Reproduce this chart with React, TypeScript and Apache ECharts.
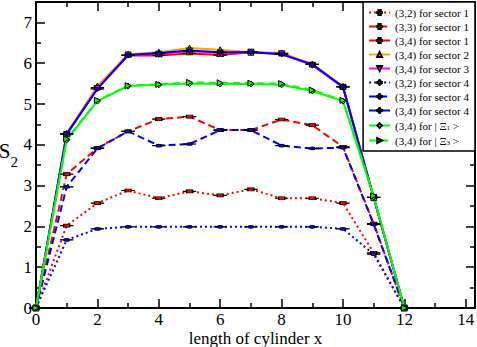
import React, { useEffect, useRef } from 'react';
import * as echarts from 'echarts';

const xValues = [0, 1, 2, 3, 4, 5, 6, 7, 8, 9, 10, 11, 12];
const s32Sector1 = [0, 2.02, 2.57, 2.88, 2.69, 2.86, 2.76, 2.91, 2.69, 2.69, 2.57, 1.35, 0];
const s33Sector1 = [0, 3.28, 3.92, 4.33, 4.63, 4.69, 4.36, 4.36, 4.62, 4.48, 3.95, 2.07, 0];
const s34Sector1 = [0, 4.26, 5.4, 6.19, 6.19, 6.24, 6.2, 6.27, 6.24, 5.97, 5.42, 2.71, 0];
const s34Sector2 = [0, 4.28, 5.44, 6.22, 6.27, 6.37, 6.33, 6.27, 6.25, 5.98, 5.43, 2.71, 0];
const s34Sector3 = [0, 4.25, 5.38, 6.2, 6.22, 6.3, 6.25, 6.27, 6.23, 5.95, 5.41, 2.71, 0];
const s32Sector4 = [0, 1.67, 1.94, 1.99, 1.99, 1.99, 1.99, 1.99, 1.99, 1.99, 1.94, 1.32, 0];
const s33Sector4 = [0, 2.97, 3.91, 4.33, 3.98, 4.02, 4.36, 4.36, 3.98, 3.91, 3.93, 2.05, 0];
const s34Sector4 = [0, 4.27, 5.37, 6.2, 6.25, 6.31, 6.27, 6.27, 6.22, 5.97, 5.42, 2.71, 0];
const s34Xi1 = [0, 4.12, 5.07, 5.44, 5.47, 5.5, 5.49, 5.49, 5.47, 5.32, 5.07, 2.73, 0];
const s34Xi3 = [0, 4.14, 5.09, 5.45, 5.48, 5.53, 5.52, 5.51, 5.5, 5.34, 5.09, 2.75, 0];

const xMajorTicks = [0, 2, 4, 6, 8, 10, 12, 14];
const xMinorTicks = [1, 3, 5, 7, 9, 11, 13];
const yMajorTicks = [0, 1, 2, 3, 4, 5, 6, 7];
const yMinorTicks = [0.5, 1.5, 2.5, 3.5, 4.5, 5.5, 6.5];

const FONT = 'Liberation Serif';
const SQUARE = 'path://M0,2.5H3V0H9V2.5H12V3.5H9V6H3V3.5H0Z';
const CIRCLE = 'path://M0,2.5H3.042A3,3 0 0 1 8.958,2.5H12V3.5H8.958A3,3 0 0 1 3.042,3.5H0Z';

const seriesDefs = [
  { name: '(3,2) for sector 1', values: s32Sector1, color: '#ff0000', line: [2, 3], symbol: SQUARE, size: [12, 6], rotate: 0 },
  { name: '(3,3) for sector 1', values: s33Sector1, color: '#ff0000', line: [7, 4], symbol: SQUARE, size: [12, 6], rotate: 0 },
  { name: '(3,4) for sector 1', values: s34Sector1, color: '#ff0000', line: 'solid', symbol: SQUARE, size: [12, 6], rotate: 0 },
  { name: '(3,4) for sector 2', values: s34Sector2, color: '#ffa500', line: 'solid', symbol: 'triangle', size: 6, rotate: 0 },
  { name: '(3,4) for sector 3', values: s34Sector3, color: '#ff00ff', line: 'solid', symbol: 'triangle', size: 6, rotate: 180 },
  { name: '(3,2) for sector 4', values: s32Sector4, color: '#0000ff', line: [2, 3], symbol: CIRCLE, size: [12, 6], rotate: 0 },
  { name: '(3,3) for sector 4', values: s33Sector4, color: '#0000ff', line: [7, 4], symbol: CIRCLE, size: [12, 6], rotate: 0 },
  { name: '(3,4) for sector 4', values: s34Sector4, color: '#0000ff', line: 'solid', symbol: CIRCLE, size: [12, 6], rotate: 0 },
  { name: '(3,4) for | Ξ1 >', values: s34Xi1, color: '#00ff00', line: 'solid', symbol: 'diamond', size: 6, rotate: 0 },
  { name: '(3,4) for | Ξ3 >', values: s34Xi3, color: '#00ff00', line: [7, 5], symbol: 'triangle', size: 6, rotate: -90 },
];

function xAxisDef(position: string, ticks: number[], len: number, labels: boolean, lineShow: boolean, name?: string) {
  return {
    type: 'value',
    position,
    min: 0,
    max: 14.3,
    name: name || '',
    nameLocation: 'middle',
    nameGap: 22,
    nameMoveOverlap: false,
    nameTextStyle: { fontFamily: FONT, fontSize: 17, color: '#000', lineHeight: 17 },
    axisLine: { show: lineShow, onZero: false, lineStyle: { color: '#000', width: 2 } },
    axisTick: { show: true, inside: true, length: len, customValues: ticks, lineStyle: { color: '#000', width: 1.5 } },
    axisLabel: labels
      ? { show: true, customValues: ticks, margin: 3, fontFamily: FONT, fontSize: 17, lineHeight: 17, color: '#000' }
      : { show: false },
    splitLine: { show: false },
  };
}

function yAxisDef(position: string, ticks: number[], len: number, labels: boolean, lineShow: boolean, name?: string) {
  return {
    type: 'value',
    position,
    min: 0,
    max: 7.5,
    name: name || '',
    nameLocation: 'middle',
    nameRotate: 0,
    nameGap: 18,
    nameMoveOverlap: false,
    nameTextStyle: {
      fontFamily: FONT,
      fontSize: 21,
      color: '#000',
      padding: [0, 0, 8, 0],
      rich: {
        s: { fontFamily: FONT, fontSize: 21, color: '#000' },
        sub: { fontFamily: FONT, fontSize: 15, color: '#000', verticalAlign: 'bottom', padding: [21, 0, 0, 0] },
      },
    },
    axisLine: { show: lineShow, onZero: false, lineStyle: { color: '#000', width: 2 } },
    axisTick: { show: true, inside: true, length: len, customValues: ticks, lineStyle: { color: '#000', width: 1.5 } },
    axisLabel: labels
      ? { show: true, customValues: ticks, margin: 4, fontFamily: FONT, fontSize: 17, color: '#000' }
      : { show: false },
    splitLine: { show: false },
  };
}

export default function App() {
  const ref = useRef<HTMLDivElement>(null);
  useEffect(() => {
    if (!ref.current) return;
    const chart = echarts.init(ref.current, null, { renderer: 'svg' });
    chart.setOption({
      animation: false,
      backgroundColor: '#fff',
      grid: { left: 36, right: 2, top: 2, bottom: 39, containLabel: false, outerBoundsMode: 'none' },
      xAxis: [
        xAxisDef('bottom', xMajorTicks, 9, true, true, 'length of cylinder x'),
        xAxisDef('bottom', xMinorTicks, 5, false, false),
        xAxisDef('top', xMajorTicks, 9, false, true),
        xAxisDef('top', xMinorTicks, 5, false, false),
      ],
      yAxis: [
        yAxisDef('left', yMajorTicks, 9, true, true, '{s|S}{sub|2}'),
        yAxisDef('left', yMinorTicks, 5, false, false),
        yAxisDef('right', yMajorTicks, 9, false, true),
        yAxisDef('right', yMinorTicks, 5, false, false),
      ],
      legend: {
        orient: 'vertical',
        right: 2,
        top: 2,
        padding: [5, 6, 5, 5],
        itemWidth: 21,
        itemHeight: 6,
        itemGap: 3,
        backgroundColor: '#fff',
        borderColor: '#000',
        borderWidth: 1.5,
        borderRadius: 0,
        data: seriesDefs.map((d) => d.name),
        formatter: (name: string) => name.replace(/Ξ(\d)/, 'Ξ{sub|$1}'),
        textStyle: {
          fontFamily: FONT,
          fontSize: 11,
          lineHeight: 11,
          color: '#000',
          rich: {
            sub: { fontFamily: FONT, fontSize: 7, color: '#000', verticalAlign: 'bottom', lineHeight: 7, padding: [5, 0, 0, 0] },
          },
        },
      },
      series: seriesDefs.map((d) => ({
        name: d.name,
        type: 'line',
        xAxisIndex: 0,
        yAxisIndex: 0,
        data: xValues.map((x, i) => [x, d.values[i]]),
        symbol: d.symbol,
        symbolSize: d.size,
        symbolRotate: d.rotate,
        symbolKeepAspect: true,
        showAllSymbol: true,
        lineStyle: { color: d.color, width: 2, type: d.line },
        itemStyle: { color: d.color, borderColor: '#000', borderWidth: 1 },
        emphasis: { disabled: true },
      })),
    });
    return () => chart.dispose();
  }, []);
  return <div ref={ref} style={{ width: 477, height: 347, position: 'absolute', left: 0, top: 0 }} />;
}
